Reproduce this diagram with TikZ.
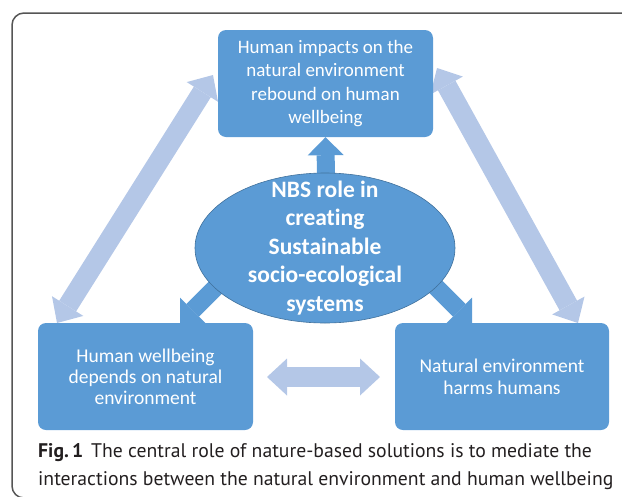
\documentclass[tikz,border=0pt]{standalone}
\usepackage{fontspec}
\setmainfont{Carlito}[Ligatures=NoCommon]
\newfontfamily\capfont{PT Sans}
\usepackage{tikz}
\usetikzlibrary{shapes.geometric}
\usetikzlibrary{arrows.meta}
\definecolor{boxblue}{HTML}{5B9BD5}
\definecolor{edgeblue}{HTML}{41719C}
\definecolor{paleblue}{HTML}{B4C7E7}
\definecolor{framegray}{HTML}{555555}
\definecolor{capgray}{HTML}{231F20}
\tikzstyle{box}=[fill=boxblue, rounded corners=8pt, minimum width=215pt, minimum height=107pt, text=white, align=center, inner sep=0pt]
\tikzstyle{pale<>}=[paleblue, line width=20pt, {Triangle[length=20pt,width=37pt,line width=0pt]}-{Triangle[length=20pt,width=37pt,line width=0pt]}]
\tikzstyle{dark>}=[boxblue, line width=18pt, -{Triangle[length=18pt,width=36pt,line width=0pt]}]
\tikzstyle{captext}=[anchor=base west, inner sep=0pt, text=capgray, font=\capfont\fontsize{19.7}{28}\selectfont]

\begin{document}
\begin{tikzpicture}[x=1pt,y=-1pt]
\useasboundingbox (0,0) rectangle (622,496);
\clip (0,0) rectangle (622,496);
\draw[framegray, line width=1.5pt, rounded corners=12pt] (12,13) rectangle (645,498);
\coordinate (uplow) at (326,185);
\coordinate (dlhi) at (230,273);
\coordinate (dllow) at (180,323);
\coordinate (drhi) at (422,273);
\coordinate (drlow) at (472,323);
\coordinate (p1) at (57,323);
\coordinate (p2) at (213,75);
\coordinate (p3) at (437,68);
\coordinate (p4) at (578,323);
\coordinate (p5) at (267,377);
\coordinate (p6) at (380,377);
\draw[pale<>] (p1) -- (p2);
\draw[pale<>] (p3) -- (p4);
\draw[pale<>] (p5) -- (p6);
\node[box, font=\fontsize{19}{23.5}\selectfont] (imp) at (325.5,83.5) {Human impacts on the\\natural environment\\rebound on human\\wellbeing};
\node[box, font=\fontsize{19.5}{21}\selectfont] (dep) at (145.5,376.5) {Human wellbeing\\depends on natural\\environment};
\node[box, minimum width=214pt, font=\fontsize{19.5}{22}\selectfont] (harm) at (502,376.5) {Natural environment\\harms humans};
\draw[dark>] (uplow) -- (imp.south);
\draw[dark>] (dlhi) -- (dllow);
\draw[dark>] (drhi) -- (drlow);
\node[ellipse, fill=boxblue, draw=edgeblue, line width=0.6pt, minimum width=260pt, minimum height=150pt, inner sep=0pt] (nbs) at (325,248) {};
\node[text=white, align=center, inner sep=0pt, font=\bfseries\fontsize{23.5}{28.5}\selectfont] (nbstext) at (nbs) {NBS role in\\creating\\Sustainable\\socio-ecological\\systems};
\node[captext] (cap1) at (38,457) {\textbf{Fig.\,1}\hspace{0.4em}The central role of nature-based solutions is to mediate the};
\node[captext] (cap2) at (38,485) {interactions between the natural environment and human wellbeing};
\end{tikzpicture}
\end{document}
